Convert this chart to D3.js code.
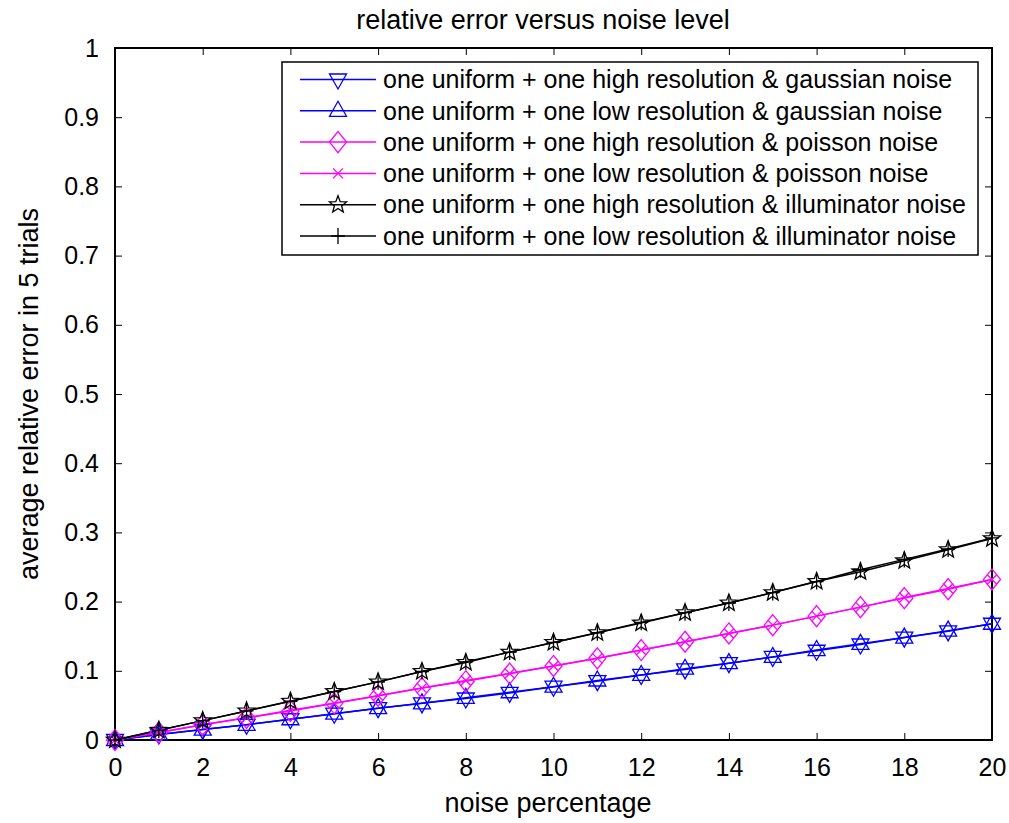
<!DOCTYPE html>
<html>
<head>
<meta charset="utf-8">
<script src="https://cdn.jsdelivr.net/npm/d3@7"></script>
<style>
  html, body { margin: 0; padding: 0; background: #fff; }
  svg { display: block; font-family: "Liberation Sans", Arial, sans-serif; }
</style>
</head>
<body>
<svg id="chart" width="1009" height="823"></svg>
<script>
// noise percentage (x)
const noiseLevels = d3.range(0, 21);

// average relative error over 5 trials, per configuration
const highGaussian = [0, 0.008, 0.015, 0.022, 0.030, 0.038, 0.046, 0.053, 0.060, 0.068, 0.077, 0.085, 0.094, 0.102, 0.111, 0.120, 0.129, 0.138, 0.148, 0.157, 0.168];
const lowGaussian  = [0, 0.008, 0.015, 0.022, 0.030, 0.038, 0.046, 0.053, 0.061, 0.069, 0.077, 0.086, 0.094, 0.103, 0.111, 0.120, 0.130, 0.139, 0.148, 0.158, 0.168];
const highPoisson  = [0, 0.011, 0.022, 0.032, 0.042, 0.053, 0.064, 0.075, 0.085, 0.096, 0.107, 0.118, 0.130, 0.142, 0.154, 0.166, 0.179, 0.192, 0.205, 0.218, 0.232];
const lowPoisson   = [0, 0.011, 0.022, 0.032, 0.043, 0.053, 0.064, 0.075, 0.086, 0.096, 0.107, 0.118, 0.130, 0.142, 0.154, 0.166, 0.179, 0.192, 0.206, 0.219, 0.232];
const highIllum    = [0, 0.014, 0.028, 0.042, 0.056, 0.070, 0.084, 0.099, 0.112, 0.127, 0.141, 0.155, 0.169, 0.184, 0.198, 0.213, 0.229, 0.243, 0.259, 0.275, 0.291];
const lowIllum     = [0, 0.014, 0.028, 0.042, 0.056, 0.070, 0.084, 0.099, 0.113, 0.127, 0.141, 0.155, 0.170, 0.184, 0.198, 0.213, 0.229, 0.246, 0.261, 0.276, 0.292];

const seriesLabels = [
  "one uniform + one high resolution & gaussian noise",
  "one uniform + one low resolution & gaussian noise",
  "one uniform + one high resolution & poisson noise",
  "one uniform + one low resolution & poisson noise",
  "one uniform + one high resolution & illuminator noise",
  "one uniform + one low resolution & illuminator noise"
];

const xTicks = [0, 2, 4, 6, 8, 10, 12, 14, 16, 18, 20];
const yTicks = [0, 0.1, 0.2, 0.3, 0.4, 0.5, 0.6, 0.7, 0.8, 0.9, 1];

const series = [
  { label: seriesLabels[0], values: highGaussian, color: "#0000ff", marker: "triDown" },
  { label: seriesLabels[1], values: lowGaussian,  color: "#0000ff", marker: "triUp" },
  { label: seriesLabels[2], values: highPoisson,  color: "#ff00ff", marker: "diamond" },
  { label: seriesLabels[3], values: lowPoisson,   color: "#ff00ff", marker: "cross" },
  { label: seriesLabels[4], values: highIllum,    color: "#000000", marker: "star" },
  { label: seriesLabels[5], values: lowIllum,     color: "#000000", marker: "plus" }
];

const svg = d3.select("#chart");
const plotLeft = 115, plotRight = 992, plotTop = 48, plotBottom = 740;
const labelFont = 27, tickFont = 25;

const x = d3.scaleLinear().domain([0, 20]).range([plotLeft, plotRight]);
const y = d3.scaleLinear().domain([0, 1]).range([plotBottom, plotTop]);

// marker path generators centred on the origin
function markerPath(kind) {
  const p = d3.path();
  if (kind === "triDown") {
    p.moveTo(-8.5, -5.5); p.lineTo(8.5, -5.5); p.lineTo(0, 9.5); p.closePath();
  } else if (kind === "triUp") {
    p.moveTo(-8.5, 5.5); p.lineTo(8.5, 5.5); p.lineTo(0, -9.5); p.closePath();
  } else if (kind === "diamond") {
    p.moveTo(0, -10.5); p.lineTo(8.5, 0); p.lineTo(0, 10.5); p.lineTo(-8.5, 0); p.closePath();
  } else if (kind === "cross") {
    p.moveTo(-5, -5); p.lineTo(5, 5); p.moveTo(-5, 5); p.lineTo(5, -5);
  } else if (kind === "plus") {
    p.moveTo(-7, 0); p.lineTo(7, 0); p.moveTo(0, -8); p.lineTo(0, 8);
  } else if (kind === "star") {
    const R = 9, r = 3.8;
    for (let i = 0; i < 10; i++) {
      const a = -Math.PI / 2 + i * Math.PI / 5;
      const rad = i % 2 === 0 ? R : r;
      const px = rad * Math.cos(a), py = rad * Math.sin(a);
      if (i === 0) p.moveTo(px, py); else p.lineTo(px, py);
    }
    p.closePath();
  }
  return p.toString();
}

// axes frame with inward ticks on all four sides
const tickLen = 7;
const xAxisBottom = d3.axisBottom(x).tickValues(xTicks).tickSize(-tickLen).tickPadding(18).tickFormat(d3.format("d"));
const xAxisTop = d3.axisTop(x).tickValues(xTicks).tickSize(-tickLen).tickFormat("");
const yAxisLeft = d3.axisLeft(y).tickValues(yTicks).tickSize(-tickLen).tickPadding(16).tickFormat(d => d === 0 || d === 1 ? d3.format("d")(d) : d3.format(".1f")(d));
const yAxisRight = d3.axisRight(y).tickValues(yTicks).tickSize(-tickLen).tickFormat("");

function styleAxis(g) {
  g.select(".domain").remove();
  g.selectAll(".tick line").attr("stroke", "#000").attr("stroke-width", 1);
  g.selectAll(".tick text").attr("fill", "#000").attr("font-size", tickFont).attr("font-family", "Liberation Sans, Arial, sans-serif");
}

svg.append("g").attr("transform", `translate(0,${plotBottom})`).call(xAxisBottom).call(styleAxis);
svg.append("g").attr("transform", `translate(0,${plotTop})`).call(xAxisTop).call(styleAxis);
svg.append("g").attr("transform", `translate(${plotLeft},0)`).call(yAxisLeft).call(styleAxis);
svg.append("g").attr("transform", `translate(${plotRight},0)`).call(yAxisRight).call(styleAxis);

svg.append("rect")
  .attr("x", plotLeft).attr("y", plotTop)
  .attr("width", plotRight - plotLeft).attr("height", plotBottom - plotTop)
  .attr("fill", "none").attr("stroke", "#000").attr("stroke-width", 2);

// series lines and markers
const line = d3.line().x((d, i) => x(noiseLevels[i])).y(d => y(d));

series.forEach(s => {
  svg.append("path")
    .datum(s.values)
    .attr("d", line)
    .attr("fill", "none")
    .attr("stroke", s.color)
    .attr("stroke-width", 1.5);
});

series.forEach(s => {
  svg.append("g").selectAll("path")
    .data(s.values)
    .join("path")
    .attr("transform", (d, i) => `translate(${x(noiseLevels[i])},${y(d)})`)
    .attr("d", markerPath(s.marker))
    .attr("fill", "none")
    .attr("stroke", s.color)
    .attr("stroke-width", 1.3);
});

// legend
const legend = svg.append("g");
const lgX = 282, lgY = 62, lgW = 696, lgH = 193;
legend.append("rect")
  .attr("x", lgX).attr("y", lgY).attr("width", lgW).attr("height", lgH)
  .attr("fill", "#fff").attr("stroke", "#000").attr("stroke-width", 1.5);

series.forEach((s, i) => {
  const cy = 79.5 + i * 31.3;
  legend.append("line")
    .attr("x1", 300).attr("x2", 376).attr("y1", cy).attr("y2", cy)
    .attr("stroke", s.color).attr("stroke-width", 1.5);
  legend.append("path")
    .attr("transform", `translate(338,${cy})`)
    .attr("d", markerPath(s.marker))
    .attr("fill", "none").attr("stroke", s.color).attr("stroke-width", 1.3);
  legend.append("text")
    .attr("x", 383).attr("y", cy).attr("dy", "0.35em")
    .attr("font-size", 25).attr("fill", "#000")
    .text(s.label);
});

// titles
svg.append("text")
  .attr("x", 543).attr("y", 29)
  .attr("text-anchor", "middle").attr("font-size", labelFont)
  .text("relative error versus noise level");

svg.append("text")
  .attr("x", 548).attr("y", 812)
  .attr("text-anchor", "middle").attr("font-size", labelFont)
  .text("noise percentage");

svg.append("text")
  .attr("transform", `translate(38,${(plotTop + plotBottom) / 2}) rotate(-90)`)
  .attr("text-anchor", "middle").attr("font-size", labelFont)
  .text("average relative error in 5 trials");
</script>
</body>
</html>
